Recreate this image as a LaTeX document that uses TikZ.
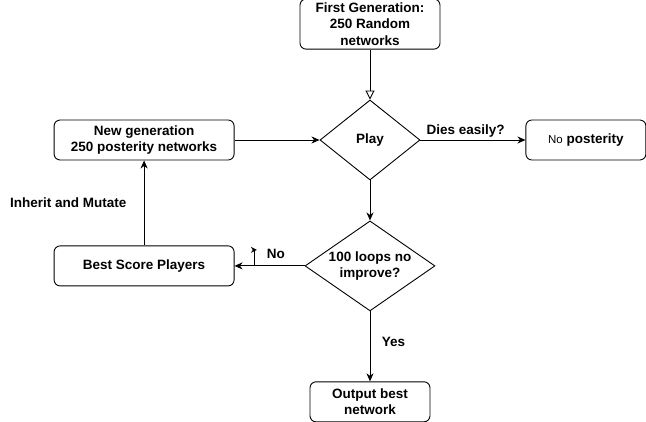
\documentclass[tikz,border=0pt]{standalone}
\usepackage{fontspec}
\setmainfont{Liberation Sans}
\usetikzlibrary{arrows.meta, positioning, shapes.geometric}
\tikzset{
  box/.style={rectangle,draw,rounded corners=6pt,align=center,inner sep=1pt,minimum height=40pt},
  decision/.style={diamond,draw,align=center,inner sep=0pt},
  line/.style={-{Stealth[length=8pt,width=7pt,inset=2.5pt]}},
  openline/.style={-{Triangle[open,length=9pt,width=9pt]}},
  tick/.style={-{Stealth[length=6pt,width=6pt,inset=2pt]}}
}

\begin{document}
\begin{tikzpicture}[x=1pt, y=-1pt, line width=0.9pt,
  font=\fontsize{13.5}{16.5}\selectfont\bfseries]
\useasboundingbox (0,0) rectangle (646,421);
\node[decision, minimum width=100pt, minimum height=80pt] (play) at (370,140) {Play};
\node[box, above=50pt of play, minimum width=140pt, minimum height=50pt] (first) {First Generation:\\250 Random\\networks};
\node[box, left=85pt of play, minimum width=180pt] (newgen) {New generation\\250 posterity networks};
\node[box, right=105pt of play, minimum width=120pt] (nopost) {{\mdseries\fontsize{11.5}{14}\selectfont No} posterity};
\node[decision, below=40pt of play, aspect=1.44, minimum width=130pt, minimum height=90pt] (loop) {100 loops no\\improve?};
\node[box, minimum width=180pt] (best) at (newgen |- loop) {Best Score Players};
\node[box, below=70pt of loop, minimum width=120pt] (output) {Output best\\network};
\draw[openline] (first) -- (play);
\draw[line] (newgen) -- (play);
\draw[line] (play) -- node[above, pos=0.43, inner sep=2pt] {Dies easily?} (nopost);
\draw[line] (play) -- (loop);
\draw[line] (loop) -- coordinate[pos=0.71] (nobase) node[above=3pt, pos=0.41] {No} (best);
\draw[line] (loop) -- node[right=8pt, pos=0.43] {Yes} (output);
\draw[line] (best) -- node[left=14pt, midway] {Inherit and Mutate} (newgen);
% little label anchor
\coordinate (notop) at ([yshift=16pt]nobase);
\coordinate (nohead) at ([xshift=2pt]notop);
\draw[tick] (nobase) -- (notop) -- (nohead);
\end{tikzpicture}
\end{document}
